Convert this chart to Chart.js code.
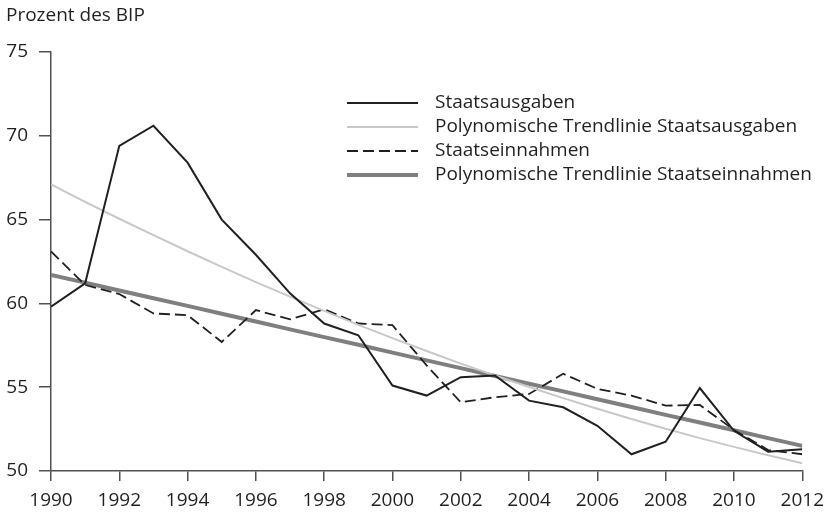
<!DOCTYPE html>
<html>
<head>
<meta charset="utf-8">
<script src="https://cdn.jsdelivr.net/npm/chart.js@4/dist/chart.umd.min.js"></script>
<style>
  body { margin: 0; background: #fff; }
  canvas { display: block; }
</style>
</head>
<body>
<canvas id="chart" width="832" height="513"></canvas>
<script>
// Daten (Prozent des BIP)
const years = [1990, 1991, 1992, 1993, 1994, 1995, 1996, 1997, 1998, 1999, 2000, 2001,
  2002, 2003, 2004, 2005, 2006, 2007, 2008, 2009, 2010, 2011, 2012];
const ausgaben = [59.8, 61.2, 69.4, 70.6, 68.4, 65.0, 62.9, 60.6, 58.8, 58.1, 55.1, 54.5,
  55.6, 55.7, 54.2, 53.8, 52.7, 51.0, 51.75, 54.95, 52.4, 51.15, 51.3];
const trendAusgaben = [67.1, 66.06, 65.05, 64.07, 63.11, 62.18, 61.27, 60.4, 59.55, 58.72, 57.93, 57.16,
  56.41, 55.7, 55.01, 54.35, 53.71, 53.1, 52.52, 51.96, 51.44, 50.94, 50.46];
const einnahmen = [63.1, 61.1, 60.56, 59.4, 59.3, 57.7, 59.6, 59.05, 59.65, 58.8, 58.7, 56.3,
  54.1, 54.4, 54.6, 55.8, 54.9, 54.5, 53.9, 53.94, 52.45, 51.25, 51.0];
const trendEinnahmen = [61.7, 61.24, 60.77, 60.31, 59.85, 59.38, 58.92, 58.45, 57.99, 57.53, 57.06, 56.6,
  56.14, 55.67, 55.21, 54.75, 54.28, 53.82, 53.35, 52.89, 52.43, 51.96, 51.5];
const yTicks = [50, 55, 60, 65, 70, 75];

const FONT = '"Open Sans", "Noto Sans", sans-serif';
const INK = '#231f20';
const AXIS = '#505050';

const toPoints = vals => vals.map((v, i) => ({ x: years[i], y: v }));

const datasets = [
  { label: 'Staatsausgaben', data: toPoints(ausgaben),
    borderColor: INK, borderWidth: 2 },
  { label: 'Polynomische Trendlinie Staatsausgaben', data: toPoints(trendAusgaben),
    borderColor: '#c8c8c8', borderWidth: 2 },
  { label: 'Staatseinnahmen', data: toPoints(einnahmen),
    borderColor: INK, borderWidth: 1.8, borderDash: [11, 5] },
  { label: 'Polynomische Trendlinie Staatseinnahmen', data: toPoints(trendEinnahmen),
    borderColor: '#7f7f7f', borderWidth: 4 }
];

// Legende und Achsentitel direkt auf die Leinwand
const extras = {
  id: 'extras',
  afterDraw(chart) {
    const c = chart.ctx;
    c.save();
    c.fillStyle = INK;
    c.font = '19px ' + FONT;
    c.textBaseline = 'middle';
    c.textAlign = 'left';
    c.fillText('Prozent des BIP', 6, 16);

    const rows = [103, 127, 151, 175];
    chart.data.datasets.forEach((ds, i) => {
      const y = rows[i];
      c.strokeStyle = ds.borderColor;
      c.lineWidth = ds.borderWidth;
      c.setLineDash(ds.borderDash || []);
      c.beginPath();
      c.moveTo(347, y);
      c.lineTo(418, y);
      c.stroke();
      c.setLineDash([]);
      c.fillText(ds.label, 435, y);
    });
    c.restore();
  }
};

new Chart(document.getElementById('chart'), {
  type: 'line',
  data: { datasets },
  options: {
    responsive: false,
    animation: false,
    layout: { padding: { top: 52, right: 28, left: 0, bottom: 0 } },
    elements: {
      point: { radius: 0 },
      line: { tension: 0, borderCapStyle: 'butt', borderJoinStyle: 'miter' }
    },
    plugins: {
      legend: { display: false },
      tooltip: { enabled: false }
    },
    scales: {
      x: {
        type: 'linear',
        min: years[0],
        max: years[years.length - 1],
        afterFit: s => { s.height = 42; },
        ticks: {
          stepSize: 2,
          padding: 8,
          color: INK,
          font: { family: FONT, size: 19 },
          callback: v => String(v)
        },
        grid: { drawOnChartArea: false, tickLength: 10, color: AXIS, lineWidth: 1.5 },
        border: { color: AXIS, width: 1.5 }
      },
      y: {
        min: yTicks[0],
        max: yTicks[yTicks.length - 1],
        afterFit: s => { s.width = 51; },
        afterBuildTicks: s => { s.ticks = yTicks.map(v => ({ value: v })); },
        ticks: {
          padding: 11,
          color: INK,
          font: { family: FONT, size: 19 }
        },
        grid: { drawOnChartArea: false, tickLength: 12, color: AXIS, lineWidth: 1.5 },
        border: { color: AXIS, width: 1.5 }
      }
    }
  },
  plugins: [extras]
});
</script>
</body>
</html>
